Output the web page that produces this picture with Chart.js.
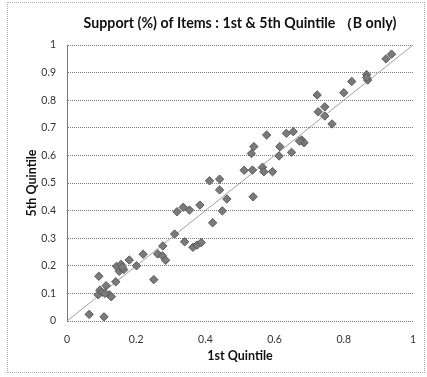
<!DOCTYPE html>
<html>
<head>
<meta charset="utf-8">
<script src="https://cdn.jsdelivr.net/npm/chart.js@4/dist/chart.umd.min.js"></script>
<style>
  html, body { margin: 0; padding: 0; background: #fff; }
  #wrap { position: relative; width: 427px; height: 377px; }
  #frame { position: absolute; left: 7px; top: 2px; width: 416px; height: 369px; border: 1px dotted #aaa; pointer-events: none; }
  canvas { position: absolute; left: 0; top: 0; }
</style>
</head>
<body>
<div id="wrap">
  <canvas id="myChart" width="427" height="377"></canvas>
  <div id="frame"></div>
</div>
<script>
// support of each item, 1st quintile (x) and 5th quintile (y)
const quintile1 = [
  0.064, 0.107, 0.092, 0.095, 0.090, 0.102, 0.113, 0.122, 0.128, 0.110,
  0.141, 0.143, 0.156, 0.151, 0.164, 0.160, 0.180, 0.201, 0.220, 0.251,
  0.262, 0.276, 0.285, 0.277, 0.311, 0.340, 0.364, 0.376, 0.388, 0.318,
  0.336, 0.354, 0.384, 0.421, 0.449, 0.412, 0.441, 0.441, 0.462, 0.512,
  0.536, 0.565, 0.569, 0.538, 0.594, 0.533, 0.540, 0.577, 0.615, 0.613,
  0.649, 0.634, 0.654, 0.678, 0.685, 0.672, 0.723, 0.726, 0.745, 0.745,
  0.766, 0.800, 0.823, 0.866, 0.869, 0.866, 0.922, 0.938,
]
const quintile5 = [
  0.024, 0.015, 0.162, 0.112, 0.095, 0.104, 0.128, 0.095, 0.088, 0.100,
  0.142, 0.198, 0.205, 0.180, 0.186, 0.195, 0.221, 0.200, 0.242, 0.150,
  0.243, 0.236, 0.220, 0.272, 0.315, 0.287, 0.267, 0.275, 0.284, 0.396,
  0.412, 0.402, 0.420, 0.356, 0.399, 0.508, 0.514, 0.475, 0.442, 0.546,
  0.547, 0.557, 0.541, 0.450, 0.541, 0.607, 0.632, 0.674, 0.632, 0.598,
  0.611, 0.680, 0.686, 0.656, 0.646, 0.652, 0.819, 0.758, 0.776, 0.743,
  0.714, 0.827, 0.868, 0.893, 0.873, 0.882, 0.950, 0.967,
]
const diagonal = [0, 1]

const xTickStep = 0.2
const yTickStep = 0.1

const font = 'Lato, "Open Sans", sans-serif'

const points = quintile1.map((v, i) => ({ x: v, y: quintile5[i] }))

// 0, 0.1 ... 1 instead of 0.0 / 1.0
const tickLabel = (value) => String(Math.round(value * 10) / 10)

const ctx = document.querySelector('#myChart')

new Chart(ctx, {
  type: 'scatter',
  data: {
    datasets: [
      {
        data: points,
        pointStyle: 'rectRot',
        pointRadius: 4.2,
        backgroundColor: '#7a7a7a',
        borderColor: '#5a5a5a',
        borderWidth: 1,
        order: 1,
      },
      {
        data: diagonal.map((v) => ({ x: v, y: v })),
        showLine: true,
        pointRadius: 0,
        borderColor: '#a0a0a0',
        borderWidth: 1,
        order: 2,
      },
    ],
  },
  options: {
    responsive: false,
    animation: false,
    layout: { padding: { left: 0, right: 14, top: 0, bottom: 0 } },
    plugins: {
      legend: { display: false },
      tooltip: { enabled: false },
      title: {
        display: true,
        fullSize: false,
        text: 'Support (%) of Items : 1st & 5th Quintile （B only)',
        color: '#111',
        font: { family: font, size: 14.2, weight: 'bold' },
        padding: { top: 15, bottom: 13 },
      },
    },
    scales: {
      x: {
        type: 'linear',
        min: 0,
        max: 1,
        afterFit: (scale) => { scale.height = 56 },
        grid: { display: false },
        border: { display: false },
        ticks: {
          stepSize: xTickStep,
          padding: 4,
          color: '#333',
          font: { family: font, size: 10.5 },
          maxRotation: 0,
          callback: tickLabel,
        },
        title: {
          display: true,
          text: '1st Quintile',
          color: '#111',
          font: { family: font, size: 12.5, weight: 'bold' },
          padding: { top: 0, bottom: 14 },
        },
      },
      y: {
        type: 'linear',
        min: 0,
        max: 1,
        afterFit: (scale) => { scale.width = 67 },
        grid: {
          color: '#7a7a7a',
          lineWidth: 1,
          drawTicks: false,
        },
        border: { display: true, color: '#7a7a7a', dash: [1, 1] },
        ticks: {
          stepSize: yTickStep,
          padding: 11,
          color: '#333',
          font: { family: font, size: 10.5 },
          callback: tickLabel,
        },
        title: {
          display: true,
          text: '5th Quintile',
          color: '#111',
          font: { family: font, size: 12.5, weight: 'bold' },
          padding: { top: 24, bottom: 0 },
        },
      },
    },
  },
})
</script>
</body>
</html>
